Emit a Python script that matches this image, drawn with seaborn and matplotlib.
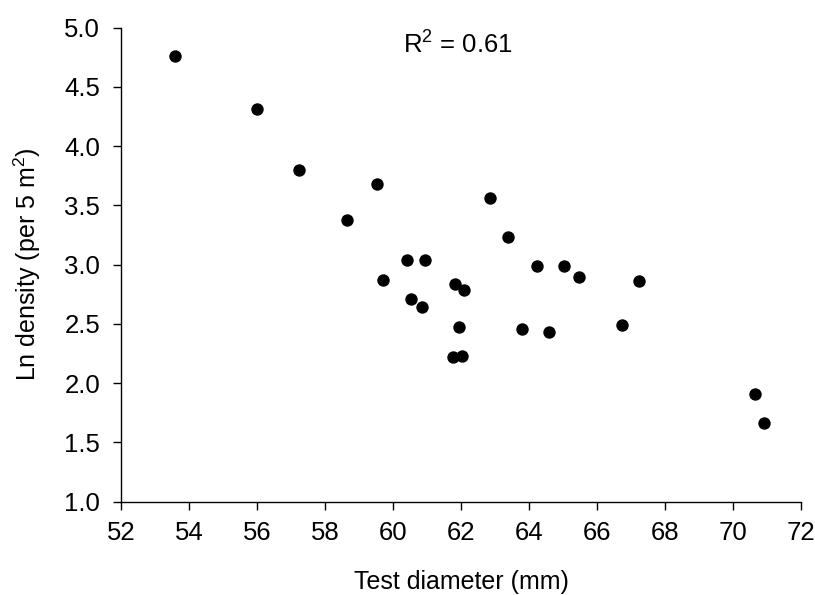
import matplotlib
matplotlib.use("Agg")
import matplotlib.pyplot as plt
import seaborn as sns
import pandas as pd

diameter = [53.59, 56.01, 57.23, 59.52, 58.65, 62.86, 63.37, 60.41, 60.93,
            64.24, 65.04, 65.47, 59.69, 61.81, 62.09, 60.53, 60.86, 61.93,
            63.79, 64.58, 61.76, 62.04, 67.24, 66.73, 70.65, 70.91]
ln_density = [4.76, 4.31, 3.80, 3.68, 3.38, 3.56, 3.23, 3.04, 3.04,
              2.99, 2.99, 2.90, 2.87, 2.84, 2.79, 2.71, 2.64, 2.47,
              2.46, 2.43, 2.22, 2.23, 2.86, 2.49, 1.91, 1.66]
x_ticks = [52, 54, 56, 58, 60, 62, 64, 66, 68, 70, 72]
y_ticks = [1.0, 1.5, 2.0, 2.5, 3.0, 3.5, 4.0, 4.5, 5.0]

df = pd.DataFrame({"x": diameter, "y": ln_density})

sns.set_style("ticks")
plt.rcParams["font.family"] = ["Liberation Sans", "DejaVu Sans"]
plt.rcParams["mathtext.fontset"] = "custom"
plt.rcParams["mathtext.rm"] = "Liberation Sans"
plt.rcParams["text.color"] = "black"
plt.rcParams["axes.labelcolor"] = "black"

fig = plt.figure(figsize=(8.15, 5.95), dpi=100)
ax = fig.add_axes([0.1485, 0.157, 0.8345, 0.7964])
sns.scatterplot(data=df, x="x", y="y", ax=ax, color="black", s=80,
                edgecolor="black", linewidth=0, legend=False)

ax.set_xlim(52, 72)
ax.set_ylim(1.0, 5.0)
ax.set_xticks(x_ticks)
ax.set_yticks(y_ticks)
ax.set_yticklabels([f"{v:.1f}" for v in y_ticks])
ax.tick_params(axis="both", direction="out", length=6, width=1,
               labelsize=18.5, color="black", labelcolor="black")
ax.tick_params(axis="y", pad=9)
ax.tick_params(axis="x", pad=8)
for side in ["left", "bottom"]:
    ax.spines[side].set_linewidth(1)
    ax.spines[side].set_color("black")
sns.despine(ax=ax)

ax.set_xlabel("Test diameter (mm)", fontsize=18, labelpad=18, color="black")
ax.set_ylabel("Ln density (per 5 m$^2$)", fontsize=18, labelpad=15, color="black")
ax.text(60.3, 4.79, "R$^2$ = 0.61", fontsize=18.5, ha="left", va="baseline",
        color="black")

fig.savefig("out.png", dpi=100)
